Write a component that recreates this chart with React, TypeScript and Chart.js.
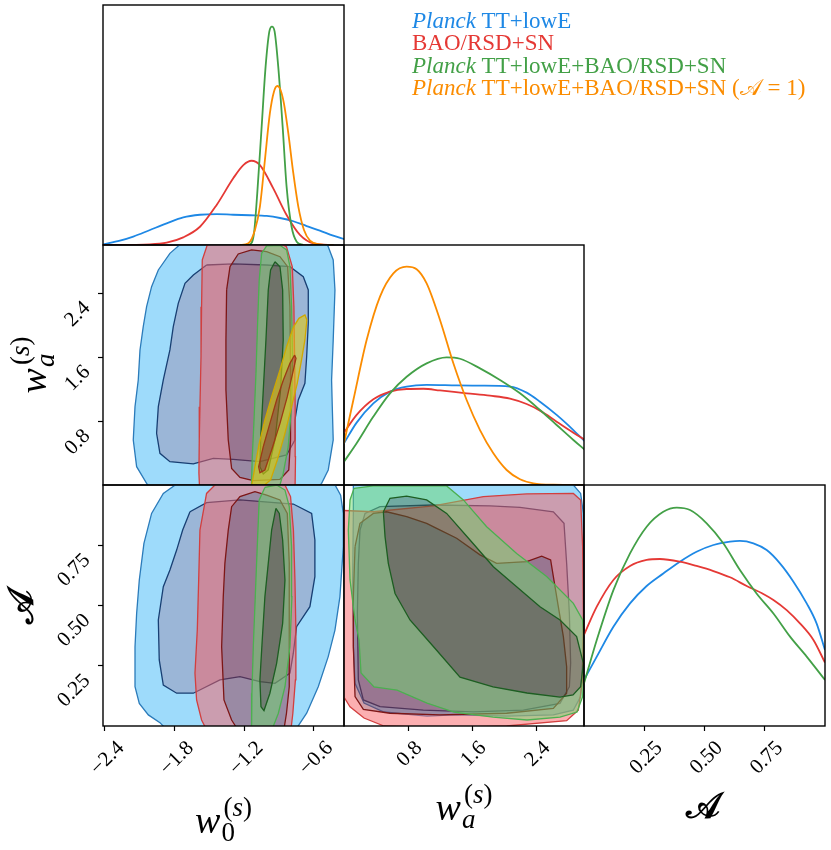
import React, { useEffect, useRef } from "react";
import { Chart, registerables } from "chart.js";

Chart.register(...registerables);

type P = [number, number];

const SERIF = '"Liberation Serif", "DejaVu Serif", serif';

// ---------- axes ----------
const w0Range: P = [-2.417, -0.339];
const waRange: P = [0, 3];
const ARange: P = [0, 1];
const densRange: P = [0, 1];
const w0Ticks = [-2.4, -1.8, -1.2, -0.6];
const waTicks = [0.8, 1.6, 2.4];
const ATicks = [0.25, 0.5, 0.75];

// ---------- legend ----------
const legendItalic = ["Planck", "", "Planck", "Planck"];
const legendRest = [" TT+lowE", "BAO/RSD+SN", " TT+lowE+BAO/RSD+SN", " TT+lowE+BAO/RSD+SN (\u{1D49C} = 1)"];
const seriesColors = ["#1E88E5", "#E53935", "#43A047", "#FB8C00"];

// ---------- 1D marginals (x, relative density) ----------
const w0_blue: P[] = [[-2.414,0.003],[-2.271,0.018],[-2.156,0.035],[-2.012,0.0625],[-1.868,0.09],[-1.725,0.115],[-1.581,0.126],[-1.437,0.129],[-1.294,0.126],[-1.15,0.124],[-1.006,0.121],[-0.891,0.1125],[-0.776,0.099],[-0.661,0.079],[-0.547,0.06],[-0.432,0.039],[-0.331,0.024]];
const w0_red: P[] = [[-2.414,0],[-2.012,0.003],[-1.868,0.01],[-1.725,0.032],[-1.581,0.076],[-1.437,0.167],[-1.294,0.278],[-1.207,0.333],[-1.136,0.351],[-1.064,0.333],[-0.949,0.236],[-0.834,0.125],[-0.719,0.042],[-0.603,0.007],[-0.431,0]];
const w0_green: P[] = [[-1.236,0],[-1.15,0.003],[-1.115,0.049],[-1.087,0.215],[-1.049,0.493],[-1.015,0.743],[-0.983,0.889],[-0.96,0.91],[-0.937,0.889],[-0.906,0.743],[-0.868,0.493],[-0.834,0.243],[-0.791,0.076],[-0.747,0.014],[-0.69,0]];
const w0_orange: P[] = [[-1.236,0],[-1.164,0.007],[-1.107,0.0625],[-1.064,0.16],[-1.021,0.354],[-0.978,0.549],[-0.943,0.639],[-0.914,0.6625],[-0.886,0.646],[-0.857,0.59],[-0.819,0.465],[-0.776,0.299],[-0.733,0.16],[-0.684,0.0625],[-0.632,0.018],[-0.547,0.003],[-0.431,0]];

const wa_blue: P[] = [[0,0.174],[0.158,0.26],[0.367,0.34],[0.575,0.389],[0.783,0.41],[1.033,0.417],[1.408,0.415],[1.7,0.414],[2.075,0.41],[2.283,0.385],[2.45,0.347],[2.658,0.292],[2.867,0.229],[3.0125,0.181]];
const wa_red: P[] = [[0,0.218],[0.158,0.292],[0.367,0.357],[0.575,0.389],[0.783,0.4],[0.992,0.401],[1.2,0.394],[1.533,0.382],[1.825,0.372],[2.075,0.36],[2.283,0.3375],[2.45,0.31],[2.658,0.264],[2.867,0.218],[3.0125,0.1875]];
const wa_green: P[] = [[0,0.097],[0.158,0.174],[0.367,0.285],[0.575,0.382],[0.783,0.451],[1.033,0.507],[1.283,0.532],[1.45,0.526],[1.7,0.486],[1.95,0.4375],[2.2,0.382],[2.45,0.3125],[2.658,0.25],[2.867,0.1875],[3.0125,0.146]];
const wa_orange: P[] = [[0,0.174],[0.117,0.354],[0.283,0.604],[0.45,0.785],[0.617,0.882],[0.783,0.91],[0.908,0.899],[1.033,0.84],[1.2,0.6875],[1.367,0.507],[1.533,0.354],[1.7,0.229],[1.867,0.132],[2.033,0.0625],[2.2,0.024],[2.367,0.007],[2.617,0.001],[3.0125,0]];

const A_blue: P[] = [[0,0.191],[0.053,0.288],[0.122,0.412],[0.191,0.509],[0.26,0.581],[0.329,0.633],[0.398,0.682],[0.467,0.723],[0.537,0.751],[0.606,0.765],[0.647,0.768],[0.703,0.758],[0.758,0.73],[0.813,0.675],[0.869,0.599],[0.924,0.509],[0.965,0.426],[1.0,0.315]];
const A_red: P[] = [[0,0.378],[0.053,0.495],[0.122,0.606],[0.191,0.664],[0.26,0.689],[0.315,0.693],[0.398,0.682],[0.467,0.664],[0.537,0.643],[0.606,0.617],[0.675,0.581],[0.744,0.548],[0.786,0.523],[0.841,0.481],[0.896,0.426],[0.952,0.357],[1.0,0.263]];
const A_green: P[] = [[0,0.177],[0.053,0.357],[0.122,0.564],[0.191,0.716],[0.26,0.827],[0.329,0.889],[0.385,0.906],[0.44,0.896],[0.509,0.841],[0.578,0.758],[0.647,0.647],[0.716,0.55],[0.786,0.467],[0.855,0.371],[0.924,0.288],[1.0,0.191]];

// ---------- 2D contours (68% inner / 95% outer) ----------
// (w0, wa)
const w0wa_blue_out: P[] = [[-1.71,3.06],[-1.84,2.896],[-1.94,2.688],[-1.998,2.479],[-2.041,2.229],[-2.07,1.979],[-2.098,1.688],[-2.113,1.313],[-2.141,0.979],[-2.156,0.563],[-2.127,0.229],[-2.041,0.021],[-1.955,-0.146],[-0.633,-0.146],[-0.532,0.021],[-0.475,0.188],[-0.432,0.563],[-0.44,0.979],[-0.446,1.313],[-0.432,1.813],[-0.417,2.438],[-0.432,2.813],[-0.475,2.979],[-0.547,3.1]];
const w0wa_blue_in: P[] = [[-1.524,2.75],[-1.294,2.763],[-1.006,2.75],[-0.805,2.729],[-0.69,2.604],[-0.647,2.438],[-0.647,2.021],[-0.661,1.604],[-0.676,1.271],[-0.733,1.063],[-0.762,0.813],[-0.762,0.563],[-0.834,0.375],[-1.064,0.292],[-1.294,0.321],[-1.466,0.333],[-1.638,0.263],[-1.84,0.292],[-1.926,0.396],[-1.955,0.646],[-1.94,0.979],[-1.897,1.313],[-1.84,1.688],[-1.811,1.979],[-1.768,2.271],[-1.71,2.521],[-1.638,2.625]];
const w0wa_red_out: P[] = [[-1.509,3.04],[-1.561,2.813],[-1.567,2.229],[-1.572,1.604],[-1.581,0.979],[-1.587,0.563],[-1.59,0.146],[-1.581,-0.146],[-0.762,-0.146],[-0.757,0.354],[-0.76,0.979],[-0.765,1.604],[-0.771,2.229],[-0.785,2.729],[-0.835,2.979],[-0.91,3.04]];
const w0wa_red_in: P[] = [[-1.351,2.438],[-1.322,2.729],[-1.251,2.888],[-1.136,2.938],[-1.006,2.917],[-0.891,2.854],[-0.825,2.729],[-0.805,2.229],[-0.8,1.396],[-0.8,0.563],[-0.815,0.188],[-0.891,0.071],[-1.121,0.054],[-1.236,0.096],[-1.308,0.208],[-1.337,0.563],[-1.357,1.188],[-1.357,1.813]];
const w0wa_green_out: P[] = [[-1.006,2.988],[-1.049,2.896],[-1.07,2.563],[-1.084,2.021],[-1.098,1.396],[-1.116,0.771],[-1.13,0.354],[-1.139,-0.146],[-0.92,-0.146],[-0.863,0.146],[-0.82,0.479],[-0.791,0.979],[-0.782,1.604],[-0.791,2.229],[-0.805,2.729],[-0.834,2.938],[-0.891,2.996]];
const w0wa_green_in: P[] = [[-0.934,2.79],[-0.972,2.688],[-0.992,2.438],[-1.012,1.813],[-1.035,1.188],[-1.058,0.563],[-1.064,0.229],[-1.035,0.138],[-0.992,0.188],[-0.934,0.563],[-0.886,1.188],[-0.863,1.813],[-0.868,2.438],[-0.891,2.729]];
const w0wa_orange_out: P[] = [[-1.133,0.008],[-1.107,0.229],[-1.07,0.521],[-1.021,0.813],[-0.963,1.104],[-0.891,1.438],[-0.834,1.729],[-0.776,1.971],[-0.728,2.083],[-0.676,2.125],[-0.659,2.063],[-0.676,1.813],[-0.705,1.563],[-0.742,1.271],[-0.791,0.979],[-0.848,0.646],[-0.914,0.313],[-0.972,0.063],[-1.035,-0.013]];
const w0wa_orange_in: P[] = [[-0.765,1.625],[-0.805,1.521],[-0.862,1.313],[-0.92,1.063],[-0.978,0.771],[-1.035,0.479],[-1.075,0.229],[-1.064,0.154],[-1.021,0.188],[-0.963,0.438],[-0.891,0.771],[-0.828,1.104],[-0.782,1.396],[-0.753,1.583]];

// (w0, A)
const w0A_blue_out: P[] = [[-1.753,1.014],[-1.897,0.965],[-1.998,0.882],[-2.064,0.758],[-2.104,0.606],[-2.127,0.467],[-2.141,0.329],[-2.141,0.163],[-2.104,0.094],[-2.026,0.046],[-1.926,0.014],[-1.84,-0.03],[-0.776,-0.03],[-0.661,0.053],[-0.561,0.163],[-0.475,0.288],[-0.417,0.398],[-0.374,0.537],[-0.345,0.744],[-0.345,0.882],[-0.368,0.958],[-0.432,1.014]];
const w0A_blue_in: P[] = [[-1.667,0.889],[-1.524,0.927],[-1.236,0.938],[-0.776,0.921],[-0.618,0.882],[-0.59,0.772],[-0.59,0.62],[-0.633,0.495],[-0.748,0.412],[-0.776,0.302],[-0.805,0.219],[-0.934,0.177],[-1.064,0.184],[-1.236,0.205],[-1.409,0.191],[-1.638,0.136],[-1.782,0.136],[-1.897,0.17],[-1.932,0.274],[-1.94,0.44],[-1.897,0.578],[-1.84,0.647],[-1.782,0.73],[-1.73,0.813]];
const w0A_red_out: P[] = [[-1.437,1.007],[-1.524,0.965],[-1.581,0.813],[-1.592,0.606],[-1.604,0.398],[-1.624,0.219],[-1.61,0.108],[-1.567,0.025],[-1.509,-0.03],[-0.8,-0.03],[-0.78,0.053],[-0.758,0.191],[-0.754,0.398],[-0.762,0.606],[-0.775,0.813],[-0.8,0.952],[-0.855,1.007]];
const w0A_red_in: P[] = [[-1.337,0.813],[-1.308,0.91],[-1.236,0.952],[-1.107,0.972],[-1.006,0.958],[-0.891,0.938],[-0.828,0.882],[-0.811,0.675],[-0.81,0.398],[-0.812,0.163],[-0.835,0.053],[-0.862,-0.03],[-1.236,-0.03],[-1.308,0.025],[-1.374,0.108],[-1.394,0.329],[-1.38,0.537],[-1.366,0.675]];
const w0A_green_out: P[] = [[-1.021,0.99],[-1.07,0.938],[-1.087,0.744],[-1.104,0.537],[-1.121,0.329],[-1.133,0.136],[-1.136,-0.03],[-0.972,-0.03],[-0.905,0.053],[-0.848,0.163],[-0.805,0.329],[-0.788,0.537],[-0.791,0.744],[-0.811,0.91],[-0.848,0.979],[-0.92,1.0]];
const w0A_green_in: P[] = [[-0.926,0.903],[-0.963,0.813],[-0.992,0.675],[-1.021,0.537],[-1.044,0.357],[-1.064,0.191],[-1.055,0.08],[-1.029,0.064],[-0.978,0.136],[-0.92,0.26],[-0.868,0.426],[-0.848,0.606],[-0.868,0.772],[-0.897,0.882]];

// (wa, A)
const waA_blue_out: P[] = [[0.117,1.048],[0.117,0.882],[0.108,0.606],[0.117,0.329],[0.138,0.177],[0.25,0.095],[0.5,0.058],[1.038,0.041],[1.375,0.046],[2.033,0.041],[2.617,0.046],[2.867,0.066],[2.958,0.122],[2.992,0.329],[3.0,0.606],[2.992,0.882],[2.958,0.965],[2.867,1.0],[2.617,1.048]];
const waA_blue_in: P[] = [[0.179,0.675],[0.2,0.813],[0.263,0.882],[0.45,0.91],[1.117,0.917],[1.825,0.913],[2.2,0.907],[2.617,0.889],[2.75,0.841],[2.783,0.675],[2.817,0.467],[2.833,0.26],[2.817,0.163],[2.7,0.094],[2.242,0.066],[1.617,0.059],[0.992,0.066],[0.45,0.08],[0.242,0.108],[0.179,0.191],[0.167,0.467]];
const waA_red_out: P[] = [[-0.133,0.896],[0.367,0.889],[1.117,0.913],[1.742,0.952],[2.283,0.963],[2.867,0.965],[2.958,0.938],[2.983,0.744],[2.992,0.467],[2.983,0.191],[2.929,0.066],[2.783,0.022],[2.033,0.0],[1.2,-0.006],[0.5,0.0],[0.25,0.033],[0.075,0.08],[0.0,0.12],[-0.133,0.163]];
const waA_red_in: P[] = [[0.138,0.744],[0.2,0.841],[0.367,0.882],[0.533,0.889],[0.783,0.869],[1.033,0.841],[1.158,0.82],[1.408,0.779],[1.7,0.71],[1.908,0.675],[2.283,0.682],[2.471,0.705],[2.583,0.689],[2.617,0.62],[2.679,0.495],[2.742,0.371],[2.783,0.246],[2.783,0.136],[2.617,0.073],[2.033,0.053],[1.2,0.046],[0.575,0.053],[0.242,0.069],[0.138,0.122],[0.117,0.329],[0.117,0.537]];
const waA_green_out: P[] = [[0.125,0.986],[0.367,0.996],[1.283,0.996],[1.492,0.938],[1.783,0.827],[2.158,0.716],[2.533,0.62],[2.867,0.509],[2.983,0.44],[3.013,0.302],[2.983,0.122],[2.913,0.058],[2.7,0.037],[2.288,0.025],[1.863,0.037],[1.375,0.058],[1.038,0.095],[0.663,0.149],[0.375,0.162],[0.213,0.22],[0.188,0.357],[0.138,0.44],[0.075,0.606],[0.054,0.813],[0.075,0.938]];
const waA_green_in: P[] = [[0.492,0.889],[0.575,0.945],[0.783,0.954],[1.033,0.938],[1.283,0.882],[1.575,0.772],[1.867,0.661],[2.158,0.578],[2.45,0.495],[2.7,0.44],[2.908,0.371],[2.992,0.26],[2.958,0.163],[2.863,0.129],[2.7,0.12],[2.288,0.137],[1.863,0.162],[1.45,0.203],[1.117,0.33],[0.825,0.44],[0.638,0.55],[0.554,0.675],[0.513,0.786]];

// ---------- styles ----------
type Sty = { outerFill: string; innerFill: string; outerEdge: string; innerEdge: string };
const blueSty: Sty = { outerFill: "rgba(79,190,247,0.55)", innerFill: "rgba(55,110,175,0.5)", outerEdge: "#2b7bba", innerEdge: "#173f73" };
const redSty: Sty = { outerFill: "rgba(250,95,100,0.5)", innerFill: "rgba(150,40,60,0.45)", outerEdge: "#d23f3f", innerEdge: "#7d1616" };
const greenSty: Sty = { outerFill: "rgba(110,215,110,0.5)", innerFill: "rgba(60,110,55,0.45)", outerEdge: "#4cb050", innerEdge: "#1d5e22" };
const orangeSty: Sty = { outerFill: "rgba(225,200,20,0.6)", innerFill: "rgba(185,100,20,0.5)", outerEdge: "#d0a800", innerEdge: "#9c3a14" };

const W = 831;
const H = 850;
const XS = [103, 344, 584, 825];
const YS = [5, 245, 485, 726];
const X_AXIS_H = 70;

const toPts = (r: P[]) => {
  const a = r.map(([x, y]) => ({ x, y }));
  a.push({ ...a[0] });
  return a;
};
const signedArea = (r: P[]) => {
  let s = 0;
  for (let i = 0; i < r.length; i++) {
    const [x1, y1] = r[i];
    const [x2, y2] = r[(i + 1) % r.length];
    s += x1 * y2 - x2 * y1;
  }
  return s / 2;
};

function contour(outer: P[], inner: P[], st: Sty) {
  const innerRev = Math.sign(signedArea(outer)) === Math.sign(signedArea(inner)) ? [...inner].reverse() : inner;
  const none = "rgba(0,0,0,0)";
  return [
    { data: [...toPts(outer), ...toPts(innerRev)], fill: "shape", backgroundColor: st.outerFill, borderColor: none, borderWidth: 0 },
    { data: toPts(inner), fill: "shape", backgroundColor: st.innerFill, borderColor: none, borderWidth: 0 },
    { data: toPts(outer), fill: false, borderColor: st.outerEdge, borderWidth: 1.3 },
    { data: toPts(inner), fill: false, borderColor: st.innerEdge, borderWidth: 1.3 },
  ];
}

function line1D(pts: P[], color: string) {
  return { data: pts.map(([x, y]) => ({ x, y })), fill: false, borderColor: color, borderWidth: 1.8, cubicInterpolationMode: "monotone" };
}

const fmt = (v: number, dec: number) => (v < 0 ? "\u2212" : "") + Math.abs(v).toFixed(dec);

type Panel = {
  row: number; col: number; xr: P; yr: P;
  xTicks?: number[]; yTicks?: number[]; xDec?: number; yDec?: number; xOff?: number; yOff?: number;
  datasets: any[];
};

const PANELS: Panel[] = [
  { row: 0, col: 0, xr: w0Range, yr: densRange,
    datasets: [line1D(w0_blue, seriesColors[0]), line1D(w0_red, seriesColors[1]), line1D(w0_green, seriesColors[2]), line1D(w0_orange, seriesColors[3])] },
  { row: 1, col: 0, xr: w0Range, yr: waRange, yTicks: waTicks, yDec: 1, yOff: 12,
    datasets: [...contour(w0wa_blue_out, w0wa_blue_in, blueSty), ...contour(w0wa_red_out, w0wa_red_in, redSty), ...contour(w0wa_green_out, w0wa_green_in, greenSty), ...contour(w0wa_orange_out, w0wa_orange_in, orangeSty)] },
  { row: 1, col: 1, xr: waRange, yr: densRange,
    datasets: [line1D(wa_blue, seriesColors[0]), line1D(wa_red, seriesColors[1]), line1D(wa_green, seriesColors[2]), line1D(wa_orange, seriesColors[3])] },
  { row: 2, col: 0, xr: w0Range, yr: ARange, xTicks: w0Ticks, xDec: 1, xOff: 16, yTicks: ATicks, yDec: 2, yOff: 12,
    datasets: [...contour(w0A_blue_out, w0A_blue_in, blueSty), ...contour(w0A_red_out, w0A_red_in, redSty), ...contour(w0A_green_out, w0A_green_in, greenSty)] },
  { row: 2, col: 1, xr: waRange, yr: ARange, xTicks: waTicks, xDec: 1, xOff: 11,
    datasets: [...contour(waA_blue_out, waA_blue_in, blueSty), ...contour(waA_red_out, waA_red_in, redSty), ...contour(waA_green_out, waA_green_in, greenSty)] },
  { row: 2, col: 2, xr: ARange, yr: densRange, xTicks: ATicks, xDec: 2, xOff: 15,
    datasets: [line1D(A_blue, seriesColors[0]), line1D(A_red, seriesColors[1]), line1D(A_green, seriesColors[2])] },
];

const framePlugin = {
  id: "frame",
  afterDatasetsDraw(chart: any) {
    const { left, top, right, bottom } = chart.chartArea;
    const ctx = chart.ctx;
    ctx.save();
    ctx.strokeStyle = "#000";
    ctx.lineWidth = 1.4;
    ctx.strokeRect(left, top, right - left, bottom - top);
    ctx.restore();
  },
};

type Part = { t: string; f: string };
function drawScript(ctx: CanvasRenderingContext2D, cx: number, cy: number, rot: number, main: string, mainFont: string, sub: Part[], sup: Part[]) {
  ctx.save();
  ctx.translate(cx, cy);
  ctx.rotate(rot);
  ctx.fillStyle = "#000";
  ctx.textAlign = "left";
  ctx.textBaseline = "alphabetic";
  ctx.font = mainFont;
  const mw = ctx.measureText(main).width;
  const wOf = (ps: Part[]) => ps.reduce((s, p) => { ctx.font = p.f; return s + ctx.measureText(p.t).width; }, 0);
  const subW = wOf(sub);
  const supW = wOf(sup);
  const total = mw + Math.max(subW + 1, supW + 3);
  const x0 = -total / 2;
  ctx.font = mainFont;
  ctx.fillText(main, x0, 0);
  let x = x0 + mw + 1;
  for (const p of sub) { ctx.font = p.f; ctx.fillText(p.t, x, 8); x += ctx.measureText(p.t).width; }
  x = x0 + mw + 3;
  for (const p of sup) { ctx.font = p.f; ctx.fillText(p.t, x, -17); x += ctx.measureText(p.t).width; }
  ctx.restore();
}

const textPlugin = {
  id: "texts",
  afterDraw(chart: any) {
    const ctx: CanvasRenderingContext2D = chart.ctx;
    ctx.save();
    ctx.textAlign = "left";
    ctx.textBaseline = "alphabetic";
    legendRest.forEach((rest, i) => {
      let x = 412;
      const y = 28 + i * 22.4;
      ctx.fillStyle = seriesColors[i];
      if (legendItalic[i]) {
        ctx.font = `italic 23px ${SERIF}`;
        ctx.fillText(legendItalic[i], x, y);
        x += ctx.measureText(legendItalic[i]).width;
      }
      ctx.font = `23px ${SERIF}`;
      ctx.fillText(rest, x, y);
    });
    ctx.restore();
    const big = `italic 38px ${SERIF}`;
    const smI = `italic 27px ${SERIF}`;
    const sm = `27px ${SERIF}`;
    const supS: Part[] = [{ t: "(", f: sm }, { t: "s", f: smI }, { t: ")", f: sm }];
    drawScript(ctx, 223.5, 833, 0, "w", big, [{ t: "0", f: sm }], supS);
    drawScript(ctx, 464, 820, 0, "w", big, [{ t: "a", f: smI }], supS);
    drawScript(ctx, 704.5, 818, 0, "\u{1D49C}", `bold 36px ${SERIF}`, [], []);
    drawScript(ctx, 46, 365, -Math.PI / 2, "w", big, [{ t: "a", f: smI }], supS);
    drawScript(ctx, 33, 605, -Math.PI / 2, "\u{1D49C}", `bold 36px ${SERIF}`, [], []);
  },
};

function buildChart(canvas: HTMLCanvasElement, p: Panel, withText: boolean) {
  const left = XS[p.col], right = XS[p.col + 1], top = YS[p.row], bottom = YS[p.row + 1];
  const showX = !!p.xTicks;
  const showY = !!p.yTicks;
  const padding = { left: showY ? 0 : left, right: W - right, top, bottom: H - bottom - (showX ? X_AXIS_H : 0) };
  const grid = { display: true, drawOnChartArea: false, drawTicks: true, tickLength: 5, tickColor: "#000", tickWidth: 1.2, color: "#000" };
  const tickFont = { family: SERIF, size: 21 };
  const datasets = p.datasets.map((d, i) => ({ pointRadius: 0, pointHoverRadius: 0, tension: 0, clip: 0, order: -i, ...d }));
  return new Chart(canvas, {
    type: "line",
    data: { datasets } as any,
    options: {
      responsive: false,
      animation: false,
      devicePixelRatio: 1,
      events: [],
      layout: { autoPadding: false, padding },
      plugins: { legend: { display: false }, tooltip: { enabled: false } },
      scales: {
        x: {
          type: "linear", min: p.xr[0], max: p.xr[1], display: showX,
          afterBuildTicks: (s: any) => { if (p.xTicks) s.ticks = p.xTicks.map((v) => ({ value: v })); },
          afterFit: (s: any) => { s.height = showX ? X_AXIS_H : 0; },
          grid, border: { display: false },
          ticks: { autoSkip: false, minRotation: 45, maxRotation: 45, padding: 5, labelOffset: p.xOff || 0, color: "#000", font: tickFont, callback: (v: any) => fmt(Number(v), p.xDec || 1) },
        },
        y: {
          type: "linear", min: p.yr[0], max: p.yr[1], display: showY,
          afterBuildTicks: (s: any) => { if (p.yTicks) s.ticks = p.yTicks.map((v) => ({ value: v })); },
          afterFit: (s: any) => { s.width = showY ? left : 0; },
          grid, border: { display: false },
          ticks: { autoSkip: false, minRotation: 45, maxRotation: 45, padding: 11, labelOffset: p.yOff || 0, color: "#000", font: tickFont, callback: (v: any) => fmt(Number(v), p.yDec || 1) },
        },
      },
    } as any,
    plugins: withText ? [framePlugin, textPlugin] : [framePlugin],
  });
}

export default function App() {
  const refs = useRef<(HTMLCanvasElement | null)[]>([]);
  useEffect(() => {
    const charts = PANELS.map((p, i) => buildChart(refs.current[i] as HTMLCanvasElement, p, i === 0));
    return () => charts.forEach((c) => c.destroy());
  }, []);
  return (
    <div style={{ position: "absolute", left: 0, top: 0, width: W, height: H, background: "#fff", overflow: "hidden" }}>
      {PANELS.map((_, i) => (
        <canvas
          key={i}
          ref={(el) => { refs.current[i] = el; }}
          width={W}
          height={H}
          style={{ position: "absolute", left: 0, top: 0, width: W, height: H }}
        />
      ))}
    </div>
  );
}
